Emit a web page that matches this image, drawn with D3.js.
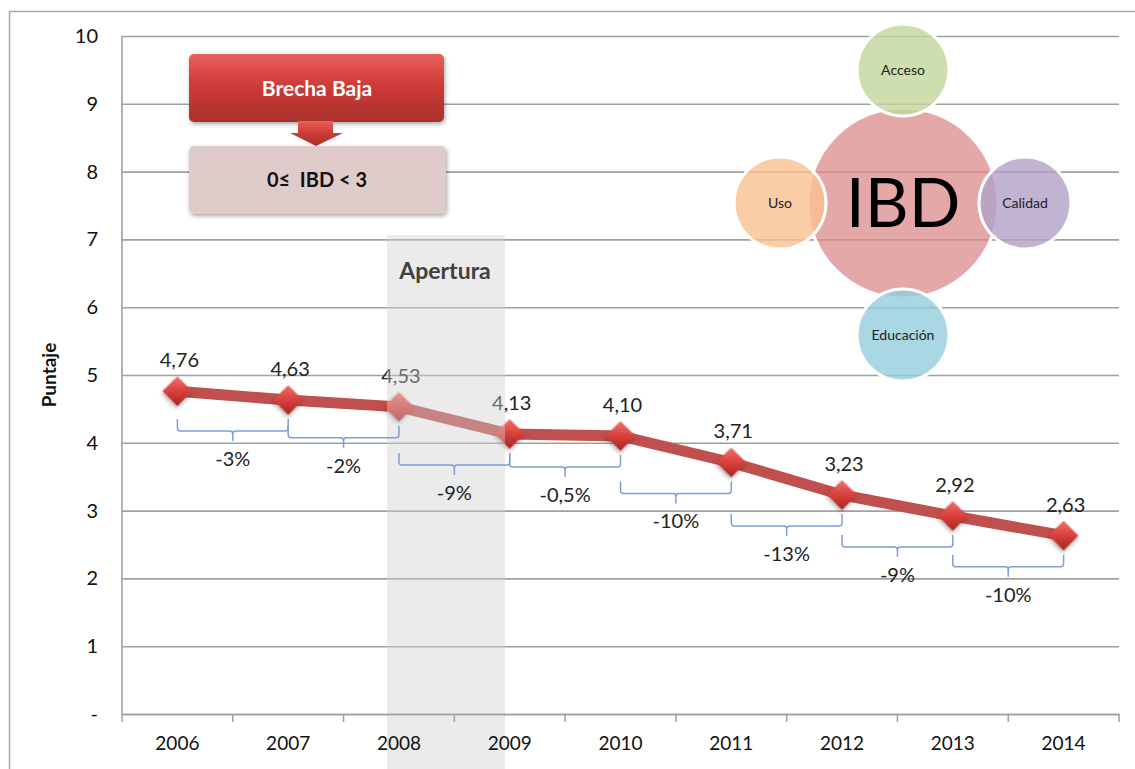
<!DOCTYPE html>
<html>
<head>
<meta charset="UTF-8">
<title>IBD Puntaje</title>
<script src="https://d3js.org/d3.v7.min.js"></script>
<style>
  body { margin: 0; background: #fff; }
  svg text { font-family: Lato, "Open Sans", "DejaVu Sans", sans-serif; }
</style>
</head>
<body>
<div id="chart"></div>
<script>
// data
const years = ["2006", "2007", "2008", "2009", "2010", "2011", "2012", "2013", "2014"];
const puntaje = [4.76, 4.63, 4.53, 4.13, 4.10, 3.71, 3.23, 2.92, 2.63];
const cambios = ["-3%", "-2%", "-9%", "-0,5%", "-10%", "-13%", "-9%", "-10%"];
const yTicks = [0, 1, 2, 3, 4, 5, 6, 7, 8, 9, 10];
const componentes = ["Acceso", "Calidad", "Educación", "Uso"];

const width = 1135, height = 769;
const plotLeft = 122, plotRight = 1119, plotTop = 36, plotBottom = 714;

const svg = d3.select("#chart").append("svg")
  .attr("width", width).attr("height", height);

const defs = svg.append("defs");
const redGrad = defs.append("linearGradient").attr("id", "redbox")
  .attr("x1", 0).attr("y1", 0).attr("x2", 0).attr("y2", 1);
redGrad.append("stop").attr("offset", "0%").attr("stop-color", "#e8605b");
redGrad.append("stop").attr("offset", "45%").attr("stop-color", "#cf3c38");
redGrad.append("stop").attr("offset", "100%").attr("stop-color", "#a8302d");

const diaGrad = defs.append("linearGradient").attr("id", "dia")
  .attr("x1", 0).attr("y1", 0).attr("x2", 1).attr("y2", 1);
diaGrad.append("stop").attr("offset", "0%").attr("stop-color", "#f0706b");
diaGrad.append("stop").attr("offset", "50%").attr("stop-color", "#d8403c");
diaGrad.append("stop").attr("offset", "100%").attr("stop-color", "#a52522");

const shadow = defs.append("filter").attr("id", "shadow")
  .attr("x", "-30%").attr("y", "-30%").attr("width", "160%").attr("height", "160%");
shadow.append("feDropShadow").attr("dx", 1).attr("dy", 2).attr("stdDeviation", 2)
  .attr("flood-color", "#000").attr("flood-opacity", 0.35);

// outer frame
svg.append("rect")
  .attr("x", 9.5).attr("y", 11.5).attr("width", 1140).attr("height", 800)
  .attr("fill", "none").attr("stroke", "#a6a6a6").attr("stroke-width", 1.5);

const x = d3.scaleBand().domain(years).range([plotLeft, plotRight]).paddingInner(0).paddingOuter(0);
const xc = d => x(d) + x.bandwidth() / 2;
const y = d3.scaleLinear().domain([0, 10]).range([plotBottom, plotTop]);

// gridlines + y labels
const yAxis = svg.append("g")
  .attr("transform", `translate(${plotLeft},0)`)
  .call(d3.axisLeft(y).tickValues(yTicks).tickSize(-(plotRight - plotLeft)).tickPadding(24)
    .tickFormat(d => d === 0 ? "-" : d));
yAxis.select(".domain").remove();
yAxis.selectAll(".tick line").attr("stroke", "#a0a0a0").attr("stroke-width", 1.6);
yAxis.selectAll(".tick text").attr("font-size", 20).attr("fill", "#111");

svg.append("line")
  .attr("x1", plotLeft).attr("x2", plotLeft).attr("y1", plotTop).attr("y2", plotBottom)
  .attr("stroke", "#a0a0a0").attr("stroke-width", 1.6);

svg.append("text")
  .attr("transform", `translate(56,${(plotTop + plotBottom) / 2}) rotate(-90)`)
  .attr("text-anchor", "middle").attr("font-size", 19).attr("font-weight", "bold")
  .attr("fill", "#111").text("Puntaje");

// IBD diagram
const cx = 903, cy = 203;
svg.append("circle").attr("cx", cx).attr("cy", cy).attr("r", 95)
  .attr("fill", "#d98b89").attr("fill-opacity", 0.75)
  .attr("stroke", "#fff").attr("stroke-width", 3);
svg.append("text").attr("x", cx).attr("y", cy).attr("dy", "0.36em")
  .attr("text-anchor", "middle").attr("font-size", 68).attr("fill", "#000")
  .attr("font-family", "'Open Sans', Lato, sans-serif")
  .text("IBD");

const satPos = { "Acceso": [0, -133], "Calidad": [122, 0], "Educación": [0, 132], "Uso": [-123, 0] };
const satColor = { "Acceso": "#c3d69b", "Calidad": "#b2a1c7", "Educación": "#93cddd", "Uso": "#fac090" };
const sat = svg.selectAll(".sat").data(componentes).join("g").attr("class", "sat")
  .attr("transform", d => `translate(${cx + satPos[d][0]},${cy + satPos[d][1]})`);
sat.append("circle").attr("r", 46)
  .attr("fill", d => satColor[d]).attr("fill-opacity", 0.8)
  .attr("stroke", "#fff").attr("stroke-width", 3);
sat.append("text").attr("text-anchor", "middle").attr("dy", "0.35em")
  .attr("font-size", 14).attr("fill", "#222").text(d => d);

// Brecha Baja box
svg.append("rect").attr("x", 189).attr("y", 54).attr("width", 255).attr("height", 68)
  .attr("rx", 5).attr("fill", "url(#redbox)").attr("filter", "url(#shadow)");
svg.append("text").attr("x", 317).attr("y", 89).attr("dy", "0.35em")
  .attr("text-anchor", "middle").attr("font-size", 21).attr("font-weight", "bold")
  .attr("fill", "#fff").text("Brecha Baja");
svg.append("path")
  .attr("d", "M298,121 H333 V133 H343 L316,146 L290,133 H298 Z")
  .attr("fill", "url(#redbox)");
svg.append("rect").attr("x", 189).attr("y", 146).attr("width", 257).attr("height", 68)
  .attr("rx", 5).attr("fill", "#e0cbcb").attr("filter", "url(#shadow)");
svg.append("text").attr("x", 317).attr("y", 180).attr("dy", "0.35em")
  .attr("text-anchor", "middle").attr("font-size", 20).attr("font-weight", "bold")
  .attr("fill", "#111").attr("xml:space", "preserve").text("0≤  IBD < 3");

// line + markers
svg.append("path").datum(puntaje)
  .attr("fill", "none").attr("stroke", "#c0504d").attr("stroke-width", 11)
  .attr("d", d3.line().x((d, i) => xc(years[i])).y(d => y(d)));

svg.selectAll(".pt").data(puntaje).join("path").attr("class", "pt")
  .attr("transform", (d, i) => `translate(${xc(years[i])},${y(d)}) rotate(45)`)
  .attr("d", d3.symbol(d3.symbolSquare, 440))
  .attr("fill", "url(#dia)").attr("filter", "url(#shadow)");

const fmt = v => d3.format(".2f")(v).replace(".", ",");
svg.selectAll(".val").data(puntaje).join("text").attr("class", "val")
  .attr("x", (d, i) => xc(years[i]) + 2).attr("y", d => y(d) - 24)
  .attr("text-anchor", "middle").attr("font-size", 20).attr("fill", "#222")
  .text(fmt);

// Apertura band (translucent overlay over the line)
svg.append("rect").attr("x", 387).attr("y", 235).attr("width", 118).attr("height", 540)
  .attr("fill", "#cfcfcf").attr("fill-opacity", 0.42);
svg.append("text").attr("x", 445).attr("y", 271).attr("dy", "0.35em")
  .attr("text-anchor", "middle").attr("font-size", 23).attr("font-weight", "bold")
  .attr("fill", "#404040").text("Apertura");

// x axis
const xAxis = svg.append("g")
  .attr("transform", `translate(0,${plotBottom})`)
  .call(d3.axisBottom(x).tickSize(0).tickPadding(23));
xAxis.select(".domain").attr("stroke", "#a0a0a0").attr("stroke-width", 1.6);
xAxis.selectAll(".tick text").attr("font-size", 19).attr("fill", "#111");
xAxis.selectAll(".sep").data(years.concat(["end"])).join("line")
  .attr("class", "sep")
  .attr("x1", (d, i) => plotLeft + i * x.bandwidth())
  .attr("x2", (d, i) => plotLeft + i * x.bandwidth())
  .attr("y1", 0).attr("y2", 8)
  .attr("stroke", "#a0a0a0").attr("stroke-width", 1.5);

// change brackets
const br = svg.selectAll(".br").data(cambios).join("g").attr("class", "br");
br.append("path")
  .attr("fill", "none").attr("stroke", "#7f9fd3").attr("stroke-width", 1.5)
  .attr("d", (d, i) => {
    const x1 = xc(years[i]), x2 = xc(years[i + 1]), m = (x1 + x2) / 2;
    const h = y(puntaje[i + 1]) + 31, t = h - 12;
    return `M${x1},${t} V${h - 3} Q${x1},${h} ${x1 + 3},${h} H${m - 3} Q${m},${h} ${m},${h + 3} V${h + 10}` +
      ` M${m},${h + 3} Q${m},${h} ${m + 3},${h} H${x2 - 3} Q${x2},${h} ${x2},${h - 3} V${t}`;
  });
br.append("text")
  .attr("x", (d, i) => (xc(years[i]) + xc(years[i + 1])) / 2)
  .attr("y", (d, i) => y(puntaje[i + 1]) + 59)
  .attr("dy", "0.35em").attr("text-anchor", "middle")
  .attr("font-size", 20).attr("fill", "#222").text(d => d);
</script>
</body>
</html>
